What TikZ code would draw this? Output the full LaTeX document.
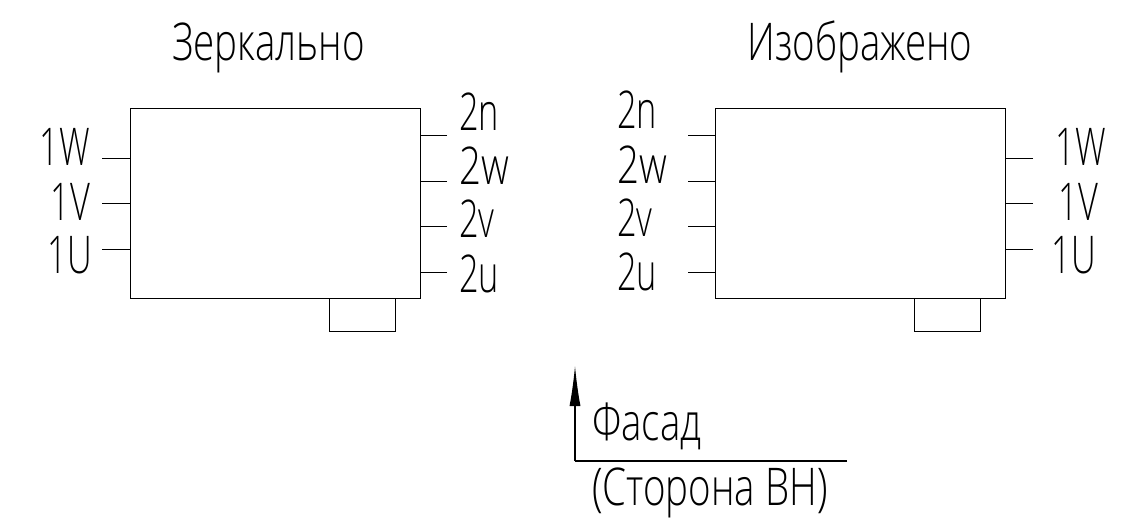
\documentclass[tikz,border=0pt]{standalone}
\usepackage{fontspec}
\usetikzlibrary{arrows.meta}
\setmainfont[FakeStretch=0.74]{Open Sans Light}
\newfontfamily\narrowfont[FakeStretch=0.66]{Open Sans Light}
\begin{document}
\begin{tikzpicture}[x=1pt,y=-1pt,
% common options for labels:
lbl/.style = {inner sep=0, font=\fontsize{52}{52}\selectfont\narrowfont},
titlelbl/.style = {inner sep=0, font=\fontsize{52}{52}\selectfont},
lead/.style = {line width=0.9pt},
box/.style = {draw, line width=0.9pt, rectangle, anchor=north west, inner sep=0}]
\useasboundingbox (0,0) rectangle (1124,527);
\node[box,minimum width=290pt,minimum height=190pt] (L) at (129.5,108) {};
\node[box,minimum width=66pt,minimum height=33pt] (Ltab) at (329,298) {};
\node[box,minimum width=290pt,minimum height=190pt] (R) at (715,108) {};
\node[box,minimum width=66pt,minimum height=33pt] (Rtab) at (914,298) {};
\node[titlelbl,anchor=base] (T1) at (268.5,60) {Зеркально};
\node[titlelbl,anchor=base] (T2) at (860,60) {Изображено};
\node[lbl,anchor=base east] (L1W) at (90,165) {1W};
\node[lbl,anchor=base east] (L1V) at (90,220) {1V};
\node[lbl,anchor=base east] (L1U) at (92,273) {1U};
\node[lbl,anchor=base west] (L2n) at (459,130) {2n};
\node[titlelbl,anchor=base west] (L2w) at (459,184) {2w};
\node[lbl,anchor=base west] (L2v) at (459,237) {2v};
\node[lbl,anchor=base west] (L2u) at (459,292) {2u};
\node[lbl,anchor=base west] (R2n) at (617,128) {2n};
\node[titlelbl,anchor=base west] (R2w) at (617,183) {2w};
\node[lbl,anchor=base west] (R2v) at (617,236) {2v};
\node[lbl,anchor=base west] (R2u) at (617,290) {2u};
\node[lbl,anchor=base east] (R1W) at (1106,165) {1W};
\node[lbl,anchor=base east] (R1V) at (1098,220) {1V};
\node[lbl,anchor=base east] (R1U) at (1096,273) {1U};
\coordinate (p1W) at (102,158);
\coordinate (p1V) at (102,203);
\coordinate (p1U) at (102,249);
\coordinate (q2n) at (447,135);
\coordinate (q2w) at (447,181);
\coordinate (q2v) at (447,226);
\coordinate (q2u) at (447,272);
\coordinate (r2n) at (688,135);
\coordinate (r2w) at (688,181);
\coordinate (r2v) at (688,226);
\coordinate (r2u) at (688,272);
\coordinate (s1W) at (1033,158);
\coordinate (s1V) at (1033,203);
\coordinate (s1U) at (1033,249);
\foreach \a in {1W,1V,1U} \draw[lead] (p\a) -- (p\a -| L.west);
\foreach \a in {2n,2w,2v,2u} \draw[lead] (q\a) -- (q\a -| L.east);
\foreach \a in {2n,2w,2v,2u} \draw[lead] (r\a) -- (r\a -| R.west);
\foreach \a in {1W,1V,1U} \draw[lead] (s\a) -- (s\a -| R.east);
\coordinate (corner) at (575,461);
\coordinate (rule) at (847,461);
\coordinate (tip) at (575,366);
\draw[lead,line width=1.1pt] (rule) -- (corner);
\draw[lead,line width=1.1pt,-{Latex[length=40pt,width=11pt]}] (corner) -- (tip);
\node[titlelbl,anchor=base west] (F) at (592,440) {Фасад};
\node[titlelbl,anchor=base west] (S) at (592,505) {(Сторона ВН)};
\end{tikzpicture}
\end{document}
